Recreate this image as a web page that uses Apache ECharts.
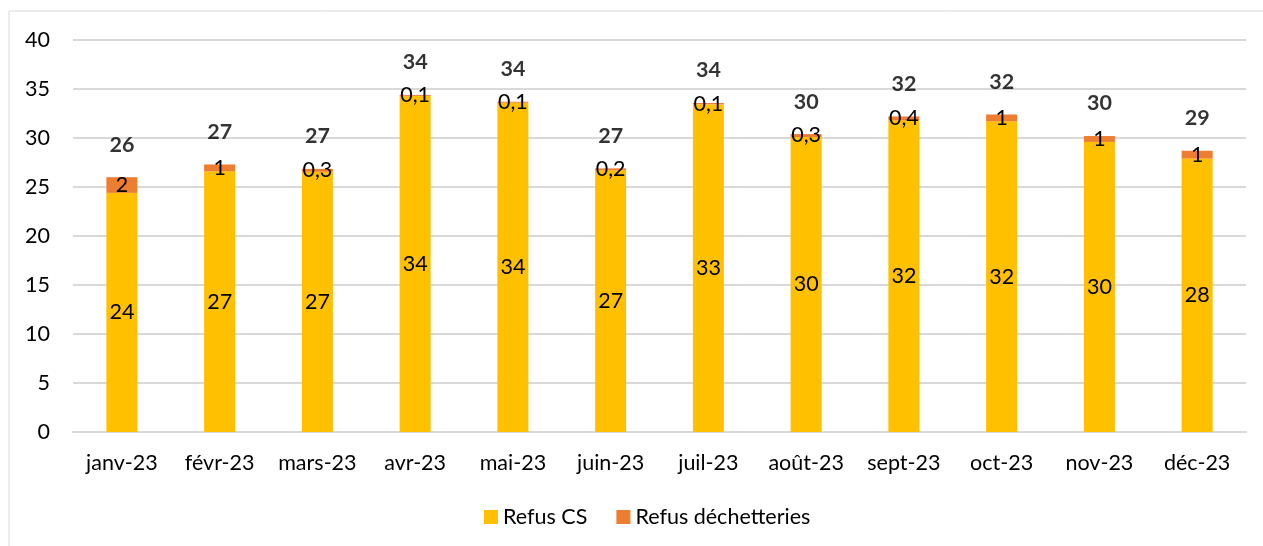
<!DOCTYPE html>
<html>
<head>
<meta charset="utf-8">
<script src="https://cdn.jsdelivr.net/npm/echarts@6/dist/echarts.min.js"></script>
<style>
  html, body { margin: 0; padding: 0; background: #fff; }
  #chart { width: 1263px; height: 546px; }
</style>
</head>
<body>
<div id="chart"></div>
<script>
// Monthly tonnages of rejects, 2023
const months = ['janv-23', 'févr-23', 'mars-23', 'avr-23', 'mai-23', 'juin-23',
                'juil-23', 'août-23', 'sept-23', 'oct-23', 'nov-23', 'déc-23'];
const refusCS = [24.4, 26.6, 26.55, 34.3, 33.6, 26.7, 33.45, 30.1, 31.8, 31.7, 29.6, 27.9];
const refusDechetteries = [1.6, 0.7, 0.3, 0.1, 0.1, 0.2, 0.12, 0.3, 0.4, 0.7, 0.6, 0.8];
const seriesNames = ['Refus CS', 'Refus déchetteries'];

const totals = refusCS.map((v, i) => v + refusDechetteries[i]);

const FONT = 'Lato';
const FS = 21.5;
const intLabel = v => String(Math.round(v));
const smallLabel = v => v < 0.5 ? v.toFixed(1).replace('.', ',') : String(Math.round(v));

const chart = echarts.init(document.getElementById('chart'));
chart.setOption({
  animation: false,
  backgroundColor: '#ffffff',
  textStyle: { fontFamily: FONT },
  graphic: [
    { type: 'line', shape: { x1: 9, y1: 11, x2: 1263, y2: 11 }, style: { stroke: '#d9d9d9', lineWidth: 1 } },
    { type: 'line', shape: { x1: 9, y1: 11, x2: 9, y2: 546 }, style: { stroke: '#d9d9d9', lineWidth: 1 } }
  ],
  grid: { left: 73, right: 17, top: 40, bottom: 114, containLabel: false },
  legend: {
    data: seriesNames,
    top: 501,
    left: 479,
    itemWidth: 14,
    itemHeight: 14,
    itemGap: 29,
    icon: 'rect',
    textStyle: { fontFamily: FONT, fontSize: FS, color: '#000' }
  },
  xAxis: {
    type: 'category',
    data: months,
    axisLine: { lineStyle: { color: '#d9d9d9', width: 2 } },
    axisTick: { show: false },
    axisLabel: { fontFamily: FONT, fontSize: FS, color: '#000', margin: 20, interval: 0 }
  },
  yAxis: {
    type: 'value',
    min: 0,
    max: 40,
    interval: 5,
    axisLine: { show: false },
    axisTick: { show: false },
    splitLine: { lineStyle: { color: '#d9d9d9', width: 2 } },
    axisLabel: { fontFamily: FONT, fontSize: FS, color: '#000', margin: 23 }
  },
  series: [
    {
      name: seriesNames[0],
      type: 'bar',
      stack: 'total',
      barWidth: 31,
      data: refusCS,
      itemStyle: { color: '#FFC000' },
      label: {
        show: true, position: 'inside', fontFamily: FONT, fontSize: FS, color: '#000',
        formatter: p => intLabel(p.value)
      }
    },
    {
      name: seriesNames[1],
      type: 'bar',
      stack: 'total',
      barWidth: 31,
      data: refusDechetteries,
      itemStyle: { color: '#ED7D31' },
      label: {
        show: true, position: 'inside', fontFamily: FONT, fontSize: FS, color: '#000',
        formatter: p => smallLabel(p.value)
      }
    },
    {
      name: 'Total',
      type: 'scatter',
      data: totals,
      symbolSize: 1,
      itemStyle: { color: 'rgba(0,0,0,0)' },
      silent: true,
      label: {
        show: true, position: 'top', distance: 21, fontFamily: FONT, fontSize: FS,
        fontWeight: 'bold', color: '#000',
        formatter: p => intLabel(p.value)
      }
    }
  ]
});
</script>
</body>
</html>
